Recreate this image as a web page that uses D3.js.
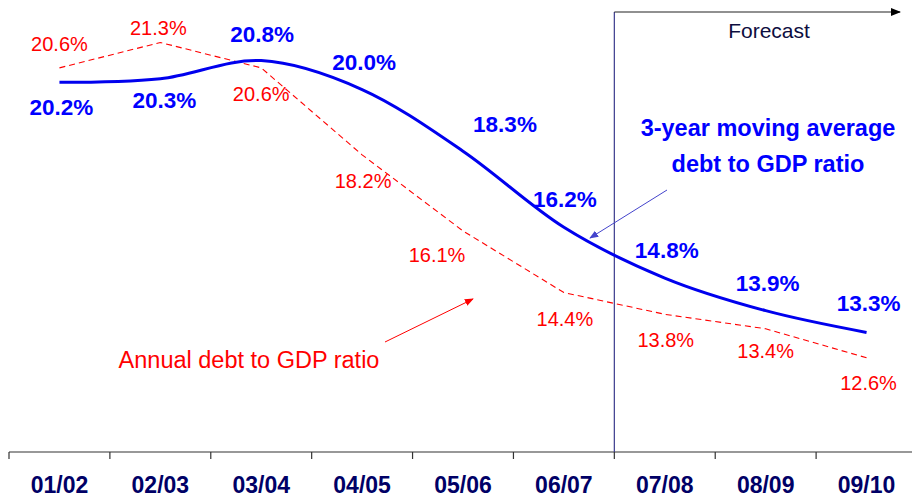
<!DOCTYPE html>
<html>
<head>
<meta charset="utf-8">
<style>
  body { margin: 0; background: #fff; }
  text { font-family: "Liberation Sans", Arial, sans-serif; }
</style>
<script src="https://cdn.jsdelivr.net/npm/d3@7"></script>
</head>
<body>
<div id="chart"></div>
<script type="text/javascript">
// data
var years = ["01/02", "02/03", "03/04", "04/05", "05/06", "06/07", "07/08", "08/09", "09/10"];
var movingAvg = [20.2, 20.3, 20.8, 20.0, 18.3, 16.2, 14.8, 13.9, 13.3];
var annual = [20.6, 21.3, 20.6, 18.2, 16.1, 14.4, 13.8, 13.4, 12.6];
var forecastFrom = "07/08";

// label nudges [dx, dy] from each point
var avgLabelOff = [[2, 33], [4, 29], [1, -19], [2, -20], [42, -19], [1, -20], [2, -20], [2, -20], [2, -21]];
var annLabelOff = [[0, -17], [-2, -7], [0, 33], [1, 33], [-26, 31], [1, 33], [1, 33], [0, 29], [2, 32]];

var w = 912,
    h = 500;

var svg = d3.select("#chart")
        .append("svg")
        .attr("width", w)
        .attr("height", h);

var x = d3.scaleBand().domain(years).range([9, 917]);
var y = d3.scaleLinear().domain([10, 22.5]).range([452, -1]);
var cx = function(d, i) { return x(years[i]) + x.bandwidth() / 2; };

var defs = svg.append("defs");
function marker(id, col, size) {
  defs.append("marker")
      .attr("id", id)
      .attr("viewBox", "0 0 10 10")
      .attr("refX", 9).attr("refY", 5)
      .attr("markerWidth", size).attr("markerHeight", size)
      .attr("markerUnits", "userSpaceOnUse")
      .attr("orient", "auto")
    .append("path")
      .attr("d", "M0,1L10,5L0,9Z")
      .attr("fill", col);
}
marker("arRed", "#ff0000", 9);
marker("arBlue", "#4444cc", 9);
marker("arBlack", "#000", 10);

// x axis: line, boundary ticks, labels
var axisY = y(10);
svg.append("line")
   .attr("x1", 9).attr("x2", w)
   .attr("y1", axisY).attr("y2", axisY)
   .attr("stroke", "#333").attr("stroke-width", 1.2);

var bounds = years.map(function(c) { return x(c); });
svg.selectAll(".tk").data(bounds).enter().append("line")
   .attr("x1", function(d) { return d; }).attr("x2", function(d) { return d; })
   .attr("y1", axisY).attr("y2", axisY + 7)
   .attr("stroke", "#333").attr("stroke-width", 1.2);

var gx = svg.append("g")
   .attr("transform", "translate(0," + axisY + ")")
   .call(d3.axisBottom(x).tickSize(0).tickPadding(25));
gx.select(".domain").remove();
gx.selectAll("text")
   .attr("font-family", "Liberation Sans, Arial, sans-serif")
   .attr("font-size", 23).attr("font-weight", "bold")
   .attr("fill", "#000066");

// forecast frame
var fx = x(forecastFrom);
svg.append("line")
   .attr("x1", fx).attr("x2", fx).attr("y1", 12).attr("y2", axisY)
   .attr("stroke", "#3a3a8c").attr("stroke-width", 1.2);
svg.append("line")
   .attr("x1", fx).attr("x2", 900).attr("y1", 12).attr("y2", 12)
   .attr("stroke", "#222").attr("stroke-width", 1.2)
   .attr("marker-end", "url(#arBlack)");
svg.append("text")
   .attr("x", 769).attr("y", 38)
   .attr("text-anchor", "middle")
   .attr("font-size", 21)
   .attr("fill", "#0d0d40")
   .text("Forecast");

// annual (dashed red)
var lineAnn = d3.line()
   .x(cx)
   .y(function(d) { return y(d); });
svg.append("path")
   .datum(annual)
   .attr("d", lineAnn)
   .attr("fill", "none")
   .attr("stroke", "#ff0000")
   .attr("stroke-width", 1.1)
   .attr("stroke-dasharray", "6,4");

// moving average (smooth blue)
var lineAvg = d3.line()
   .x(cx)
   .y(function(d) { return y(d); })
   .curve(d3.curveCardinal.tension(0));
svg.append("path")
   .datum(movingAvg)
   .attr("d", lineAvg)
   .attr("fill", "none")
   .attr("stroke", "#0000ee")
   .attr("stroke-width", 3);

// value labels
svg.selectAll(".annLbl").data(annual).enter().append("text")
   .attr("x", function(d, i) { return cx(d, i) + annLabelOff[i][0]; })
   .attr("y", function(d, i) { return y(d) + annLabelOff[i][1]; })
   .attr("text-anchor", "middle")
   .attr("font-size", 20)
   .attr("fill", "#ff0000")
   .text(function(d) { return d.toFixed(1) + "%"; });

svg.selectAll(".avgLbl").data(movingAvg).enter().append("text")
   .attr("x", function(d, i) { return cx(d, i) + avgLabelOff[i][0]; })
   .attr("y", function(d, i) { return y(d) + avgLabelOff[i][1]; })
   .attr("text-anchor", "middle")
   .attr("font-size", 22.5)
   .attr("font-weight", "bold")
   .attr("fill", "#0000ff")
   .text(function(d) { return d.toFixed(1) + "%"; });

// annotations
var blueNote = svg.append("text")
   .attr("text-anchor", "middle")
   .attr("font-size", 23.5)
   .attr("font-weight", "bold")
   .attr("fill", "#0000ff");
blueNote.append("tspan").attr("x", 768).attr("y", 136).text("3-year moving average");
blueNote.append("tspan").attr("x", 768).attr("y", 172).text("debt to GDP ratio");

svg.append("line")
   .attr("x1", 667).attr("y1", 190).attr("x2", 590).attr("y2", 238)
   .attr("stroke", "#4444cc").attr("stroke-width", 1)
   .attr("marker-end", "url(#arBlue)");

svg.append("text")
   .attr("x", 249).attr("y", 368)
   .attr("text-anchor", "middle")
   .attr("font-size", 23.5)
   .attr("fill", "#ff0000")
   .text("Annual debt to GDP ratio");

svg.append("line")
   .attr("x1", 385).attr("y1", 342).attr("x2", 473).attr("y2", 299)
   .attr("stroke", "#ff0000").attr("stroke-width", 1)
   .attr("marker-end", "url(#arRed)");
</script>
</body>
</html>
